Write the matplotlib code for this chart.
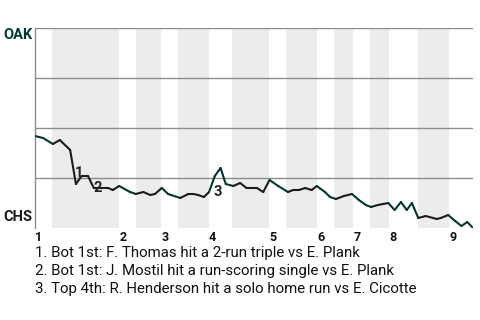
import numpy as np
import matplotlib as mpl
mpl.use('Agg')
import matplotlib.pyplot as plt

# win probability for OAK, one point per play (x in play units)
play_x = [0, 1.4, 3.1, 4.3, 6.1, 7.1, 8.1, 9.2, 10.2, 11.6, 12.7, 13.5,
          14.6, 16.5, 17.5, 18.8, 20.0, 20.8, 22.0, 23.1, 25.2, 26.6, 27.5,
          28.3, 29.3, 30.2, 31.2, 32.2, 33.1, 34.4, 35.6, 36.7, 38.5, 39.6,
          40.7, 42.2, 43.9, 44.8, 45.8, 46.9, 48.0, 48.9, 50.3, 51.2, 52.2,
          53.6, 55.0, 56.2, 57.4, 58.3, 59.5, 61.3, 62.4, 63.5, 64.5, 65.4,
          66.5, 67.8, 69.7, 70.4, 71.7, 72.9, 74.0, 75.0, 76.0]
oak_wp = [0.46, 0.45, 0.42, 0.44, 0.39, 0.22, 0.26, 0.26, 0.20, 0.20, 0.20,
          0.19, 0.21, 0.18, 0.17, 0.18, 0.165, 0.17, 0.20, 0.17, 0.15, 0.17,
          0.17, 0.165, 0.155, 0.18, 0.26, 0.30, 0.22, 0.21, 0.225, 0.20,
          0.20, 0.18, 0.24, 0.21, 0.18, 0.19, 0.19, 0.20, 0.19, 0.21, 0.18,
          0.155, 0.145, 0.16, 0.17, 0.14, 0.115, 0.105, 0.115, 0.125, 0.09,
          0.13, 0.09, 0.125, 0.05, 0.06, 0.045, 0.05, 0.065, 0.035, 0.01,
          0.03, 0.0]

# half-inning boundaries (top, bottom, top, ...)
half_edges = [0, 3.0, 14.6, 17.5, 21.9, 24.8, 30.2, 34.2, 40.6, 43.6, 49.0,
              51.9, 55.2, 58.2, 61.5, 66.5, 71.9, 76.0]
inning_labels = ['1', '2', '3', '4', '5', '6', '7', '8', '9']

# key plays: index into the play list, label
key_idx = [5, 8, 27]
key_text = ['1. Bot 1st: F. Thomas hit a 2-run triple vs E. Plank',
            '2. Bot 1st: J. Mostil hit a run-scoring single vs E. Plank',
            '3. Top 4th: R. Henderson hit a solo home run vs E. Cicotte']

OAK_GREEN = '#003831'
CHS_BLACK = '#1b1b1b'
BAND = '#ececec'
GRID = '#8e8e8e'

plt.rc('font', family=['Roboto', 'DejaVu Sans'])

fig = plt.figure(figsize=(4.8, 3.2), dpi=100)
ax = fig.add_axes([35/480, 1-228/320, 438/480, 200/320])

# shaded bottom halves
for i in range(len(half_edges)-1):
    if i % 2 == 1:
        ax.axvspan(half_edges[i], half_edges[i+1], color=BAND, lw=0, zorder=0)

for yv in [0.25, 0.5, 0.75, 1.0]:
    ax.axhline(yv, color=GRID, lw=1.0, zorder=1)

# line, coloured by team at bat
for i in range(len(play_x)-1):
    mid = 0.5*(play_x[i] + play_x[i+1])
    half = np.searchsorted(half_edges, mid) - 1
    col = OAK_GREEN if half % 2 == 0 else CHS_BLACK
    ax.plot(play_x[i:i+2], oak_wp[i:i+2], color=col, lw=1.5,
            solid_capstyle='round', zorder=3)

# key play numbers
offsets = [(2.5, 8), (3, 0), (-2, -17)]
for n, (k, off) in enumerate(zip(key_idx, offsets)):
    ax.annotate(str(n+1), (play_x[k], oak_wp[k]), xytext=off,
                textcoords='offset points', ha='center', va='center',
                fontsize=10.5, fontweight='bold', color='#222222', zorder=4)

ax.set_xlim(half_edges[0], half_edges[-1])
ax.set_ylim(0, 1)
for s in ['top', 'right', 'bottom']:
    ax.spines[s].set_visible(False)
ax.spines['left'].set_color(GRID)
ax.spines['left'].set_linewidth(1.0)
ax.set_yticks([])
ax.set_xticks(half_edges[0:-1:2])
ax.set_xticklabels(inning_labels, ha='left', fontsize=9, fontweight='bold',
                   color='#111111')
ax.tick_params(axis='x', length=0, pad=2)

ax.text(-0.006, 1.0, 'OAK', transform=ax.transAxes, ha='right', va='top',
        fontsize=10.5, fontweight='bold', color=OAK_GREEN)
ax.text(-0.006, 0.02, 'CHS', transform=ax.transAxes, ha='right', va='bottom',
        fontsize=10.5, fontweight='bold', color=CHS_BLACK)

for n, t in enumerate(key_text):
    fig.text(35/480, 1-(253+18*n)/320, t, ha='left', va='center',
             fontsize=10.8, color='#111111')

plt.savefig('out.png', dpi=100)
